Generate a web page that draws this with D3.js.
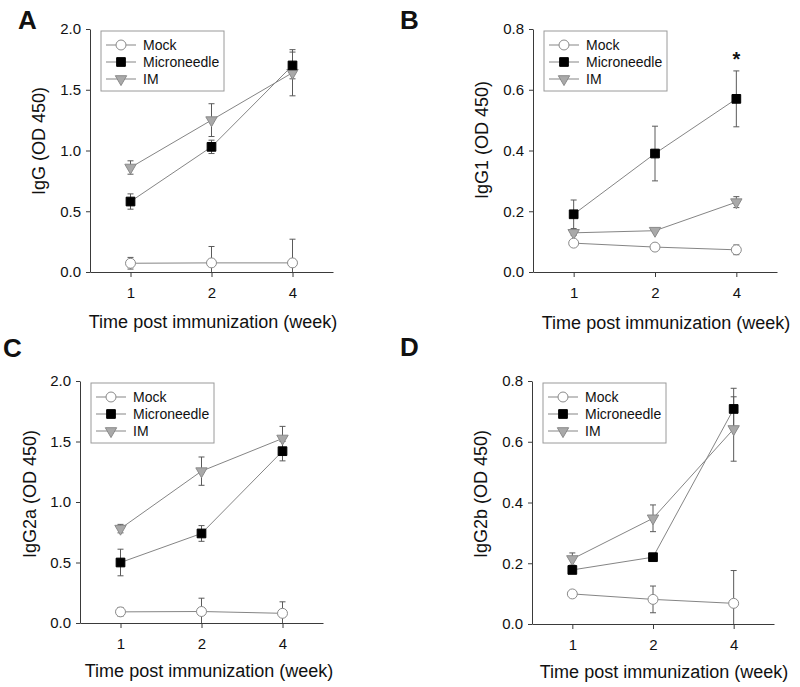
<!DOCTYPE html>
<html>
<head>
<meta charset="utf-8">
<script src="https://cdn.jsdelivr.net/npm/d3@7"></script>
<style>
  html, body { margin: 0; padding: 0; background: #fff; }
  svg { display: block; }
  text { font-family: "Liberation Sans", Arial, sans-serif; fill: #111; }
</style>
</head>
<body>
<svg id="chart" width="800" height="687"></svg>
<script>
// ---------- data ----------
const weeks = ["1", "2", "4"];
const seriesNames = ["Mock", "Microneedle", "IM"];
const xTitle = "Time post immunization (week)";

// Panel A: IgG
const igG_mock = [0.072, 0.075, 0.075];
const igG_mockErr = [0.048, 0.135, 0.195];
const igG_micro = [0.58, 1.03, 1.70];
const igG_microErr = [0.063, 0.055, 0.11];
const igG_im = [0.86, 1.25, 1.64];
const igG_imErr = [0.055, 0.135, 0.19];

// Panel B: IgG1
const igG1_mock = [0.095, 0.082, 0.073];
const igG1_mockErr = [0.006, 0.006, 0.016];
const igG1_micro = [0.19, 0.39, 0.57];
const igG1_microErr = [0.047, 0.09, 0.092];
const igG1_im = [0.129, 0.136, 0.23];
const igG1_imErr = [0.008, 0.005, 0.018];

// Panel C: IgG2a
const igG2a_mock = [0.092, 0.095, 0.08];
const igG2a_mockErr = [0.035, 0.11, 0.095];
const igG2a_micro = [0.50, 0.74, 1.42];
const igG2a_microErr = [0.11, 0.065, 0.08];
const igG2a_im = [0.78, 1.255, 1.525];
const igG2a_imErr = [0.035, 0.117, 0.1];

// Panel D: IgG2b
const igG2b_mock = [0.099, 0.081, 0.068];
const igG2b_mockErr = [0.008, 0.044, 0.108];
const igG2b_micro = [0.178, 0.22, 0.708];
const igG2b_microErr = [0.008, 0.006, 0.068];
const igG2b_im = [0.214, 0.348, 0.642];
const igG2b_imErr = [0.02, 0.044, 0.106];

const ticksHigh = [0, 0.5, 1.0, 1.5, 2.0];
const ticksLow = [0, 0.2, 0.4, 0.6, 0.8];

// ---------- layout ----------
const panels = [
  { letter: "A", lx: 18, ly: 29, yLabel: "IgG (OD 450)", x0: 90, x1: 333, top: 29, bottom: 272, yMax: 2.0, ticks: ticksHigh,
    ytx: 45, yty: 141, xtx: 213, xty: 328,
    mock: igG_mock, mockErr: igG_mockErr, micro: igG_micro, microErr: igG_microErr, im: igG_im, imErr: igG_imErr, star: null },
  { letter: "B", lx: 400, ly: 29, yLabel: "IgG1 (OD 450)", x0: 533, x1: 777, top: 29, bottom: 272, yMax: 0.8, ticks: ticksLow,
    ytx: 488, yty: 140, xtx: 666, xty: 329,
    mock: igG1_mock, mockErr: igG1_mockErr, micro: igG1_micro, microErr: igG1_microErr, im: igG1_im, imErr: igG1_imErr, star: "4" },
  { letter: "C", lx: 3, ly: 357, yLabel: "IgG2a (OD 450)", x0: 80, x1: 323, top: 381, bottom: 623, yMax: 2.0, ticks: ticksHigh,
    ytx: 36, yty: 494, xtx: 209, xty: 677,
    mock: igG2a_mock, mockErr: igG2a_mockErr, micro: igG2a_micro, microErr: igG2a_microErr, im: igG2a_im, imErr: igG2a_imErr, star: null },
  { letter: "D", lx: 400, ly: 356, yLabel: "IgG2b (OD 450)", x0: 532, x1: 774, top: 381, bottom: 624, yMax: 0.8, ticks: ticksLow,
    ytx: 487, yty: 494, xtx: 664, xty: 678,
    mock: igG2b_mock, mockErr: igG2b_mockErr, micro: igG2b_micro, microErr: igG2b_microErr, im: igG2b_im, imErr: igG2b_imErr, star: null }
];

const lineColor = "#858585";
const errColor = "#5a5a5a";
const axisColor = "#3a3a3a";

const styles = {
  Mock: { fill: "#ffffff", stroke: "#8a8a8a", shape: d3.symbolCircle, size: 78 },
  Microneedle: { fill: "#000000", stroke: "#000000", shape: d3.symbolSquare, size: 76 },
  IM: { fill: "#a9a9a9", stroke: "#8a8a8a", shape: d3.symbolTriangle, size: 56, rot: 180 }
};

const svg = d3.select("#chart");

function marker(g, name, cx, cy) {
  const s = styles[name];
  g.append("path")
    .attr("d", d3.symbol().type(s.shape).size(s.size)())
    .attr("transform", `translate(${cx},${cy})` + (s.rot ? ` rotate(${s.rot})` : ""))
    .attr("fill", s.fill)
    .attr("stroke", s.stroke)
    .attr("stroke-width", 1);
}

panels.forEach(p => {
  const g = svg.append("g");
  const x = d3.scalePoint().domain(weeks).range([p.x0, p.x1]).padding(0.5);
  const y = d3.scaleLinear().domain([0, p.yMax]).range([p.bottom, p.top]);

  // panel letter
  g.append("text").attr("x", p.lx).attr("y", p.ly)
    .attr("font-size", 26).attr("font-weight", "bold").text(p.letter);

  // axes
  const yAxis = d3.axisLeft(y).tickValues(p.ticks).tickFormat(d3.format(".1f"))
    .tickSize(4).tickPadding(5).tickSizeOuter(0);
  const ya = g.append("g").attr("transform", `translate(${p.x0},0)`).call(yAxis);
  const xAxis = d3.axisBottom(x).tickSize(5).tickPadding(10).tickSizeOuter(0);
  const xa = g.append("g").attr("transform", `translate(0,${p.bottom})`).call(xAxis);
  [ya, xa].forEach(a => {
    a.selectAll("path,line").attr("stroke", axisColor).attr("stroke-width", 1);
    a.selectAll("text").attr("font-size", 15).attr("fill", "#111")
      .attr("font-family", "Liberation Sans, Arial, sans-serif");
  });

  // axis titles
  g.append("text")
    .attr("transform", `translate(${p.ytx},${p.yty}) rotate(-90)`)
    .attr("text-anchor", "middle").attr("font-size", 18).text(p.yLabel);
  g.append("text").attr("x", p.xtx).attr("y", p.xty)
    .attr("text-anchor", "middle").attr("font-size", 18).text(xTitle);

  const sData = {
    Mock: { v: p.mock, e: p.mockErr },
    Microneedle: { v: p.micro, e: p.microErr },
    IM: { v: p.im, e: p.imErr }
  };
  const order = ["IM", "Mock", "Microneedle"];

  // error bars
  order.forEach(name => {
    const d = sData[name];
    weeks.forEach((w, i) => {
      const cx = x(w);
      const hi = Math.min(d.v[i] + d.e[i], p.yMax);
      const lo = Math.max(d.v[i] - d.e[i], 0);
      g.append("line").attr("x1", cx).attr("x2", cx)
        .attr("y1", y(hi)).attr("y2", y(lo))
        .attr("stroke", errColor).attr("stroke-width", 1);
      [[d.v[i] + d.e[i], hi], [d.v[i] - d.e[i], lo]].forEach(([raw, c]) => {
        if (raw === c) {
          g.append("line").attr("x1", cx - 3).attr("x2", cx + 3)
            .attr("y1", y(c)).attr("y2", y(c))
            .attr("stroke", errColor).attr("stroke-width", 1);
        }
      });
    });
  });

  // lines
  const line = d3.line().x((v, i) => x(weeks[i])).y(v => y(v));
  order.forEach(name => {
    g.append("path").attr("d", line(sData[name].v))
      .attr("fill", "none").attr("stroke", lineColor).attr("stroke-width", 1);
  });

  // markers
  order.forEach(name => {
    sData[name].v.forEach((v, i) => marker(g, name, x(weeks[i]), y(v)));
  });

  // significance star
  if (p.star) {
    const i = weeks.indexOf(p.star);
    const top = p.micro[i] + p.microErr[i];
    g.append("text").attr("x", x(p.star)).attr("y", y(top) - 5)
      .attr("text-anchor", "middle").attr("font-size", 20).attr("font-weight", "bold").text("*");
  }

  // legend
  const lx = p.x0 + 11, ly = p.top + 2;
  const lg = g.append("g").attr("transform", `translate(${lx},${ly})`);
  lg.append("rect").attr("x", 0).attr("y", 0).attr("width", 123).attr("height", 60)
    .attr("fill", "#fff").attr("stroke", "#9a9a9a").attr("stroke-width", 1);
  seriesNames.forEach((name, k) => {
    const ry = 14 + k * 17;
    lg.append("line").attr("x1", 5).attr("x2", 35).attr("y1", ry).attr("y2", ry)
      .attr("stroke", lineColor).attr("stroke-width", 1);
    marker(lg, name, 20, ry);
    lg.append("text").attr("x", 42).attr("y", ry + 5).attr("font-size", 14).text(name);
  });
});
</script>
</body>
</html>
